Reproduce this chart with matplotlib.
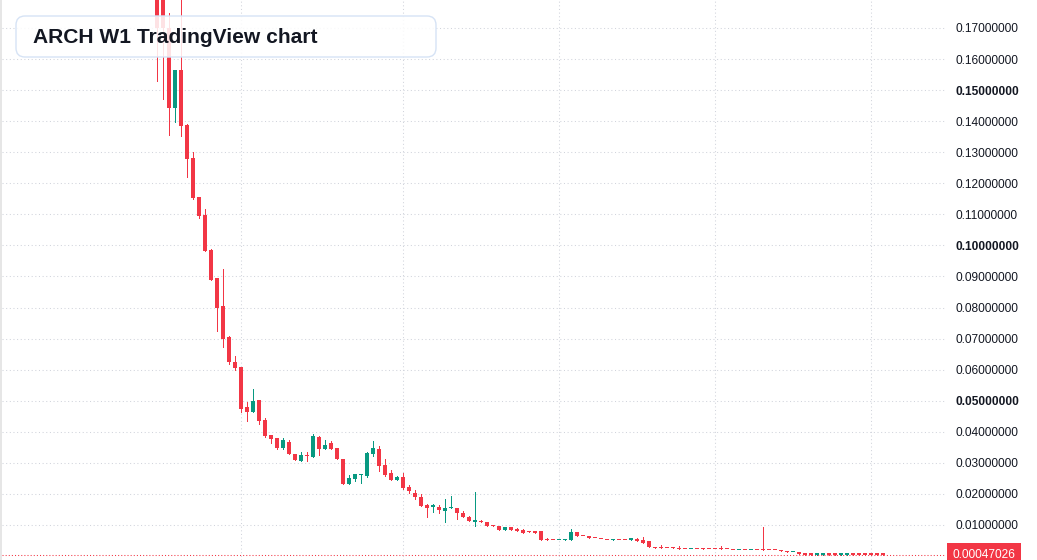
import matplotlib
matplotlib.use('Agg')
import matplotlib.pyplot as plt
from matplotlib.patches import FancyBboxPatch, Rectangle
import numpy as np

# weekly candles, one per index (first visible week = 0)
opens = [
    0.200, 0.190, 0.170, 0.1442, 0.1565, 0.1387, 0.128, 0.1155, 0.1097, 0.0984,
    0.0894, 0.0806, 0.0706, 0.0626, 0.061, 0.0481, 0.0465, 0.0503, 0.0439, 0.039,
    0.038, 0.0348, 0.0368, 0.0327, 0.0306, 0.0325, 0.032, 0.0384, 0.0343, 0.0365,
    0.0348, 0.0313, 0.0233, 0.0249, 0.0260, 0.0258, 0.0327, 0.0345, 0.0294, 0.0268,
    0.0246, 0.0255, 0.0223, 0.0203, 0.0191, 0.0165, 0.0159, 0.0158, 0.0146, 0.0153,
    0.0155, 0.0139, 0.0126, 0.0111, 0.0113, 0.011, 0.010, 0.0097, 0.0085, 0.0094,
    0.0088, 0.0084, 0.0078, 0.0078, 0.0079, 0.0056, 0.0051, 0.0050, 0.0050, 0.0052,
    0.0078, 0.0065, 0.0065, 0.0059, 0.0056, 0.0053, 0.0052, 0.0053, 0.0053, 0.0050,
    0.0056, 0.0050, 0.0047, 0.0030, 0.0026, 0.0026, 0.0026, 0.0027, 0.0023, 0.0022,
    0.0023, 0.0023, 0.0023, 0.0023, 0.0023, 0.0023, 0.0020, 0.0019, 0.0020, 0.0019,
    0.0020, 0.0020, 0.0020, 0.0020, 0.0018, 0.0017, 0.0012, 0.0014, 0.0011, 0.0005,
    0.00045, 0.00045, 0.0005, 0.0005, 0.00045, 0.00045, 0.0005, 0.0005, 0.0005, 0.0005,
    0.0005, 0.0005,
]
highs = [
    0.230, 0.200, 0.1748, 0.1565, 0.185, 0.139, 0.130, 0.1155, 0.1116, 0.0987,
    0.0894, 0.0923, 0.0707, 0.0645, 0.061, 0.0497, 0.0539, 0.0503, 0.0445, 0.039,
    0.038, 0.038, 0.0374, 0.0329, 0.0335, 0.0335, 0.0394, 0.0387, 0.0374, 0.0371,
    0.0348, 0.0313, 0.0261, 0.0265, 0.0265, 0.0335, 0.0371, 0.0355, 0.0313, 0.0277,
    0.0258, 0.0268, 0.0229, 0.0213, 0.0199, 0.0167, 0.0169, 0.0165, 0.0184, 0.0194,
    0.0155, 0.0145, 0.013, 0.0206, 0.0116, 0.011, 0.010, 0.0097, 0.0094, 0.0094,
    0.0091, 0.0087, 0.008, 0.0078, 0.0079, 0.0059, 0.0051, 0.0052, 0.0056, 0.0088,
    0.0078, 0.0065, 0.0065, 0.0059, 0.0056, 0.0053, 0.0056, 0.0053, 0.0053, 0.0059,
    0.0059, 0.0062, 0.0047, 0.0030, 0.0036, 0.0026, 0.0028, 0.0031, 0.0023, 0.0023,
    0.0023, 0.0027, 0.0023, 0.0023, 0.0031, 0.0023, 0.0020, 0.0020, 0.0020, 0.0020,
    0.0020, 0.0092, 0.0020, 0.0020, 0.0018, 0.0017, 0.0014, 0.0014, 0.0011, 0.0005,
    0.0005, 0.0005, 0.0005, 0.0007, 0.0005, 0.0005, 0.0005, 0.0005, 0.0005, 0.0005,
    0.0005, 0.0005,
]
lows = [
    0.153, 0.147, 0.1355, 0.1397, 0.1352, 0.122, 0.1148, 0.1087, 0.0981, 0.089,
    0.0723, 0.0674, 0.0619, 0.060, 0.0465, 0.0435, 0.0465, 0.0426, 0.0384, 0.0365,
    0.0345, 0.0345, 0.0327, 0.031, 0.0306, 0.0306, 0.032, 0.0324, 0.0343, 0.0346,
    0.0311, 0.0233, 0.0233, 0.024, 0.0236, 0.0253, 0.0322, 0.0275, 0.0258, 0.0246,
    0.0246, 0.0216, 0.0203, 0.0182, 0.0162, 0.0124, 0.0142, 0.014, 0.0108, 0.0153,
    0.012, 0.0124, 0.0114, 0.0098, 0.0108, 0.0098, 0.0097, 0.0085, 0.0085, 0.0085,
    0.0082, 0.0075, 0.0076, 0.0075, 0.0052, 0.0050, 0.0050, 0.0050, 0.0050, 0.0052,
    0.0063, 0.0064, 0.0057, 0.0058, 0.0055, 0.0052, 0.0052, 0.0052, 0.0052, 0.0050,
    0.0047, 0.0043, 0.0028, 0.0025, 0.0025, 0.0025, 0.0025, 0.0021, 0.0022, 0.0022,
    0.0022, 0.0022, 0.0022, 0.0022, 0.0022, 0.0022, 0.0019, 0.0019, 0.0019, 0.0019,
    0.0019, 0.0019, 0.0019, 0.0019, 0.0015, 0.0013, 0.0012, 0.0008, 0.00045, 0.00045,
    0.00045, 0.00045, 0.00045, 0.00045, 0.00045, 0.00045, 0.00045, 0.00047, 0.00047, 0.00047,
    0.00047, 0.00047,
]
closes = [
    0.170, 0.170, 0.1442, 0.1565, 0.1384, 0.1277, 0.1152, 0.1094, 0.0981, 0.089,
    0.0797, 0.070, 0.0626, 0.0606, 0.0474, 0.0465, 0.050, 0.0435, 0.0387, 0.0377,
    0.0348, 0.0374, 0.0327, 0.031, 0.0326, 0.0322, 0.0387, 0.0343, 0.0358, 0.0346,
    0.0311, 0.0233, 0.0252, 0.0265, 0.0262, 0.0332, 0.0348, 0.029, 0.0261, 0.0246,
    0.0255, 0.0219, 0.021, 0.0191, 0.0162, 0.0156, 0.0165, 0.0149, 0.0155, 0.0158,
    0.0137, 0.0124, 0.0114, 0.0113, 0.0108, 0.0098, 0.0097, 0.0085, 0.0094, 0.0085,
    0.0082, 0.0075, 0.0076, 0.0075, 0.0052, 0.0050, 0.0050, 0.0052, 0.0056, 0.0078,
    0.0063, 0.0064, 0.0057, 0.0058, 0.0055, 0.0052, 0.0053, 0.0052, 0.0052, 0.0057,
    0.0047, 0.0043, 0.0028, 0.0025, 0.0025, 0.0025, 0.0025, 0.0021, 0.0022, 0.0023,
    0.0022, 0.0022, 0.0022, 0.0022, 0.0022, 0.0022, 0.0019, 0.0020, 0.0019, 0.0020,
    0.0019, 0.0019, 0.0019, 0.0019, 0.0015, 0.0013, 0.0014, 0.0008, 0.00045, 0.00045,
    0.0005, 0.0005, 0.00045, 0.00045, 0.0005, 0.0005, 0.00045, 0.00047, 0.00047, 0.00047,
    0.00047, 0.00047026,
]
last_price = 0.00047026
grid_weeks = [14, 41, 67, 93, 119]
price_ticks = [round(0.01 * k, 2) for k in range(1, 18)]
top_label = 0.18
title = 'ARCH W1 TradingView chart'

UP = '#089981'
DOWN = '#f23645'
GRID = '#d1d4dc'
TEXT = '#131722'

plt.rcParams['font.family'] = ['Liberation Sans', 'DejaVu Sans']

W, H = 1037, 560
fig = plt.figure(figsize=(W / 100, H / 100), dpi=100, facecolor='white')
ax = fig.add_axes([2 / W, 0, 943 / W, 1])
fig.add_artist(Rectangle((0, 0), 2 / W, 1, transform=fig.transFigure,
                         facecolor='#e6e6e6', edgecolor='none'))

o = np.array(opens)
h = np.array(highs)
l = np.array(lows)
c = np.array(closes)
x = np.arange(len(o))
colors = np.where(c >= o, UP, DOWN)

ax.vlines(x, l, h, colors=colors, linewidth=0.72, antialiased=False, zorder=2)
body_low = np.minimum(o, c)
body_h = np.maximum(np.abs(c - o), 0.0004)
ax.bar(x, body_h, bottom=body_low, width=0.82, color=colors, linewidth=0,
       antialiased=False, zorder=3)

ax.axhline(last_price, color=DOWN, linewidth=0.75, linestyle=(0, (1, 2)), zorder=1)

ax.set_xlim((2 - 157) / 6, (945 - 157) / 6)
ax.set_ylim((556 - 560) / 3106, 556 / 3106)

ax.set_xticks(grid_weeks)
ax.set_xticklabels([])
ax.yaxis.tick_right()
ax.set_yticks(price_ticks)
ax.set_yticklabels([f'{v:.8f}' for v in price_ticks])
for lab, v in zip(ax.get_yticklabels(), price_ticks):
    if round(v * 100) % 5 == 0:
        lab.set_fontweight('bold')
ax.tick_params(axis='both', length=0, labelsize=8.6, labelcolor=TEXT)
ax.tick_params(axis='y', pad=7.5)
ax.grid(True, color=GRID, linewidth=0.75, linestyle=(0, (1, 2.5)), zorder=0)
for s in ax.spines.values():
    s.set_visible(False)

# label of the 0.18 line, cut by the top edge
ax.annotate(f'{top_label:.8f}', xy=(1, top_label), xycoords=('axes fraction', 'data'),
            xytext=(7.5, 0), textcoords='offset points', va='center', ha='left',
            fontsize=8.6, color=TEXT, annotation_clip=False)

ax.annotate(f'{last_price:.8f}', xy=(1, last_price), xycoords=('axes fraction', 'data'),
            xytext=(5.6, 0), textcoords='offset points', va='center', ha='left',
            color='white', fontsize=8.6, annotation_clip=False,
            bbox=dict(boxstyle='square,pad=0.45', facecolor=DOWN, edgecolor='none'))

box = FancyBboxPatch((16, H - 57), 420, 41, boxstyle='round,pad=0,rounding_size=9',
                     transform=None, facecolor=(1, 1, 1, 0.86),
                     edgecolor='#d6e3f5', linewidth=1.0, zorder=5)
fig.add_artist(box)
fig.text(33 / W, 1 - 37.5 / H, title, fontsize=15.1, fontweight='bold',
         color=TEXT, va='center', ha='left', zorder=6)

fig.savefig('out.png', dpi=100, facecolor='white')
